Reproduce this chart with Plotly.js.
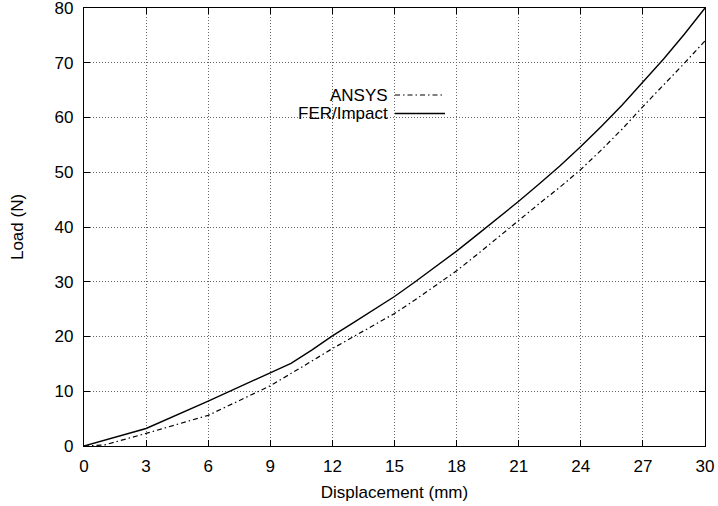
<!DOCTYPE html>
<html>
<head>
<meta charset="utf-8">
<script src="https://cdn.plot.ly/plotly-3.0.1.min.js"></script>
<style>html,body{margin:0;padding:0;background:#fff;}#chart{width:718px;height:506px;}</style>
</head>
<body>
<div id="chart"></div>
<script>
const ansysX = [0, 1, 3, 6, 9, 10, 11, 12, 13, 14, 15, 16, 17, 18, 19, 20, 21, 22, 23, 24, 25, 26, 27, 28, 29, 30];
const ansysY = [0, 0.2, 2.3, 5.6, 11.0, 13.2, 15.5, 17.8, 19.9, 22.0, 24.2, 26.7, 29.3, 32.0, 35.0, 38.1, 41.3, 44.3, 47.3, 50.5, 54.1, 57.9, 62.0, 65.9, 69.9, 74.0];
const ferX = [0, 3, 6, 9, 10, 11, 12, 13, 14, 15, 16, 17, 18, 19, 20, 21, 22, 23, 24, 25, 26, 27, 28, 29, 30];
const ferY = [0, 3.2, 8.2, 13.4, 15.1, 17.5, 20.1, 22.5, 24.9, 27.3, 30.0, 32.8, 35.6, 38.6, 41.6, 44.7, 47.9, 51.2, 54.7, 58.4, 62.3, 66.4, 70.7, 75.2, 80.0];
const xTicks = [0, 3, 6, 9, 12, 15, 18, 21, 24, 27, 30];
const yTicks = [0, 10, 20, 30, 40, 50, 60, 70, 80];
const seriesNames = ['ANSYS', 'FER/Impact'];

const font = 'Liberation Sans, Arial, sans-serif';
const dashDot = '5px,3px,1.5px,3px';
const traces = [
  {x: ansysX, y: ansysY, mode: 'lines', name: seriesNames[0],
   line: {color: '#000', width: 1.2, dash: dashDot}},
  {x: ferX, y: ferY, mode: 'lines', name: seriesNames[1],
   line: {color: '#000', width: 1.4}}
];
const axisCommon = {
  showline: true, linecolor: '#000', linewidth: 1.2, mirror: 'ticks',
  ticks: 'inside', ticklen: 6, tickcolor: '#000', tickwidth: 1,
  showgrid: true, gridcolor: '#666', griddash: '1px,2px', gridwidth: 1,
  zeroline: false, ticklabeloverflow: 'allow',
  tickfont: {family: font, size: 17, color: '#000'}
};
const L = 84, R = 705, T = 8, B = 446;
const px = v => (v - L) / (R - L);
const py = v => (B - v) / (B - T);
const layout = {
  width: 718, height: 506,
  margin: {l: L, r: 718 - R, t: T, b: 506 - B},
  paper_bgcolor: '#fff', plot_bgcolor: '#fff',
  showlegend: false,
  xaxis: Object.assign({}, axisCommon, {
    range: [0, 30], tickvals: xTicks, ticktext: xTicks.map(String),
    ticklabelstandoff: 4,
    title: {text: 'Displacement (mm)', font: {family: font, size: 17, color: '#000'}, standoff: 11}
  }),
  yaxis: Object.assign({}, axisCommon, {
    range: [0, 80], tickvals: yTicks, ticktext: yTicks.map(String),
    ticklabelstandoff: 6,
    title: {text: 'Load (N)', font: {family: font, size: 17, color: '#000'}, standoff: 26}
  }),
  annotations: [
    {xref: 'paper', yref: 'paper', x: px(390), y: py(95),
     xanchor: 'right', yanchor: 'middle', text: seriesNames[0], showarrow: false,
     font: {family: font, size: 17, color: '#000'}},
    {xref: 'paper', yref: 'paper', x: px(390), y: py(113.5),
     xanchor: 'right', yanchor: 'middle', text: seriesNames[1], showarrow: false,
     font: {family: font, size: 17, color: '#000'}}
  ],
  shapes: [
    {type: 'line', xref: 'paper', yref: 'paper',
     x0: px(395), x1: px(445), y0: py(95), y1: py(95),
     line: {color: '#000', width: 1.2, dash: dashDot}},
    {type: 'line', xref: 'paper', yref: 'paper',
     x0: px(395), x1: px(445), y0: py(113.5), y1: py(113.5),
     line: {color: '#000', width: 1.4}}
  ]
};
Plotly.newPlot('chart', traces, layout, {staticPlot: true, displayModeBar: false});
</script>
</body>
</html>
